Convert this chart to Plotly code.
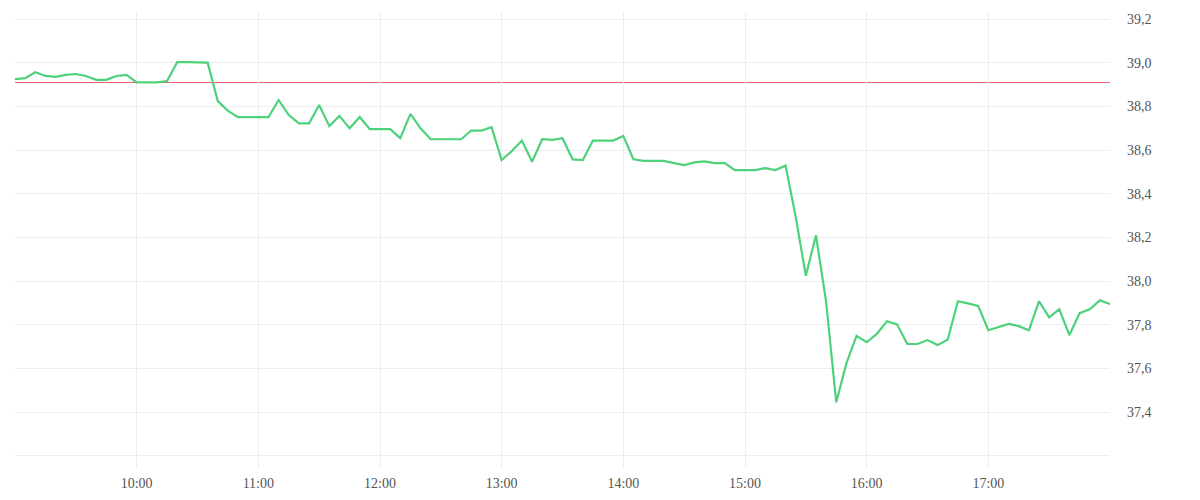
import plotly.graph_objects as go
import pandas as pd

start_time = "2024-01-02 09:00"
interval_minutes = 5
prices = [
    38.925, 38.930, 38.957, 38.940, 38.936, 38.945, 38.949, 38.940, 38.922, 38.922,
    38.940, 38.945, 38.911, 38.911, 38.911, 38.917, 39.003, 39.003, 39.003, 39.001,
    38.825, 38.780, 38.751, 38.751, 38.751, 38.751, 38.830, 38.761, 38.723, 38.723,
    38.807, 38.710, 38.757, 38.700, 38.752, 38.696, 38.696, 38.696, 38.655, 38.766,
    38.700, 38.650, 38.650, 38.650, 38.650, 38.690, 38.690, 38.705, 38.555, 38.596,
    38.644, 38.547, 38.650, 38.647, 38.655, 38.558, 38.555, 38.644, 38.644, 38.644,
    38.665, 38.558, 38.551, 38.551, 38.551, 38.541, 38.532, 38.544, 38.549, 38.541,
    38.541, 38.509, 38.509, 38.509, 38.518, 38.509, 38.529, 38.295, 38.025, 38.210,
    37.906, 37.445, 37.623, 37.749, 37.720, 37.758, 37.816, 37.802, 37.712, 37.712,
    37.730, 37.707, 37.733, 37.908, 37.898, 37.886, 37.775, 37.790, 37.804, 37.794,
    37.775, 37.908, 37.834, 37.871, 37.753, 37.853, 37.871, 37.912, 37.895,
]
previous_close = 38.91

hour_ticks = ["09:00", "10:00", "11:00", "12:00", "13:00", "14:00", "15:00",
              "16:00", "17:00", "18:00"]
hour_labels = ["", "10:00", "11:00", "12:00", "13:00", "14:00", "15:00",
               "16:00", "17:00", ""]
y_ticks = [37.2, 37.4, 37.6, 37.8, 38.0, 38.2, 38.4, 38.6, 38.8, 39.0, 39.2]
y_labels = ["", "37,4", "37,6", "37,8", "38,0", "38,2", "38,4", "38,6",
            "38,8", "39,0", "39,2"]

times = pd.date_range(start_time, periods=len(prices), freq=f"{interval_minutes}min")
day = start_time.split(" ")[0]
tick_times = [f"{day} {h}" for h in hour_ticks]

fig = go.Figure()
fig.add_trace(go.Scatter(
    x=times, y=prices, mode="lines",
    line=dict(color="#4dd27b", width=2.2),
    hoverinfo="skip", showlegend=False,
))
fig.add_hline(y=previous_close, line=dict(color="#e6646c", width=1), layer="below")

fig.update_layout(
    width=1200, height=500,
    margin=dict(l=7, r=98, t=4, b=40, pad=0, autoexpand=False),
    paper_bgcolor="white", plot_bgcolor="white",
    font=dict(family="Liberation Serif", size=14, color="#555555"),
    showlegend=False,
)
fig.update_xaxes(
    range=[tick_times[0], tick_times[-1]],
    tickmode="array", tickvals=tick_times, ticktext=hour_labels,
    showgrid=True, gridcolor="#ededed", gridwidth=1,
    zeroline=False, showline=False, ticks="",
    ticklabelstandoff=5, automargin=False,
)
fig.update_yaxes(
    side="right", range=[37.144, 39.233],
    tickmode="array", tickvals=y_ticks, ticktext=y_labels,
    showgrid=True, gridcolor="#ededed", gridwidth=1,
    zeroline=False, showline=False, ticks="",
    ticklabelstandoff=16, automargin=False,
)

fig.write_html("out.html")
